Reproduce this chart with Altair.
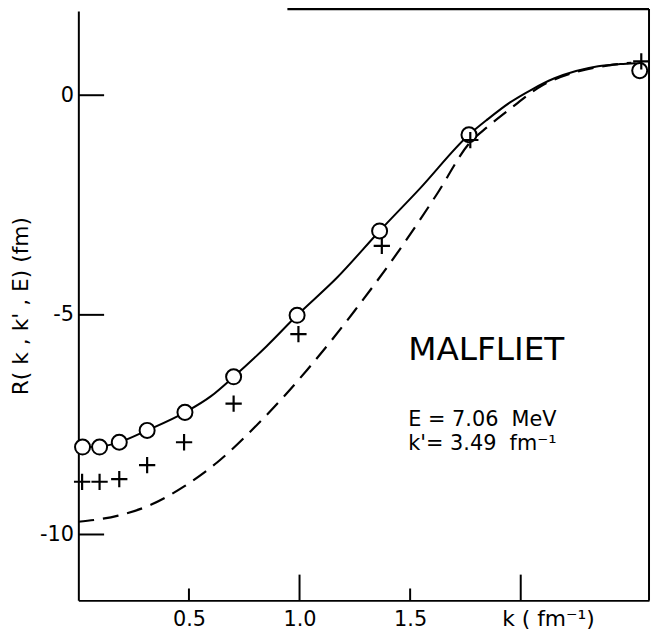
import altair as alt
import pandas as pd

# ---- data ----
circle_k = [0.019, 0.096, 0.185, 0.311, 0.482, 0.702, 0.989, 1.362, 1.766, 2.538]
circle_R = [-8.01, -8.01, -7.90, -7.63, -7.22, -6.41, -5.01, -3.09, -0.90, 0.56]

cross_k = [0.017, 0.096, 0.185, 0.311, 0.478, 0.702, 0.995, 1.372, 1.772, 2.545]
cross_R = [-8.80, -8.80, -8.74, -8.42, -7.90, -7.02, -5.44, -3.43, -1.02, 0.77]

solid_k = [0.019, 0.096, 0.185, 0.311, 0.482, 0.60, 0.702, 0.85, 0.989, 1.17,
           1.362, 1.545, 1.766, 1.85, 1.95, 2.05, 2.15, 2.25, 2.35, 2.45, 2.52]
solid_R = [-8.01, -8.00, -7.90, -7.63, -7.22, -6.85, -6.41, -5.72, -5.01, -4.15,
           -3.09, -2.12, -0.90, -0.55, -0.17, 0.13, 0.38, 0.55, 0.66, 0.71, 0.73]

dashed_k = [0.0, 0.18, 0.33, 0.48, 0.63, 0.797, 1.035, 1.25, 1.47, 1.62,
            1.77, 1.85, 1.95, 2.10, 2.25, 2.40, 2.50]
dashed_R = [-9.71, -9.57, -9.32, -8.90, -8.35, -7.56, -6.25, -4.90, -3.39, -2.26,
            -1.08, -0.72, -0.32, 0.23, 0.53, 0.68, 0.74]

x_major_ticks = [1.0, 2.0]
x_minor_ticks = [0.5, 1.5]
x_tick_labels = [0.5, 1.0, 1.5]
y_ticks = [0, -5, -10]

NB = "\u00a0"
annot_title = ["MALFLIET"]
annot_E = ["E = 7.06" + NB + NB + "MeV"]
annot_k = ["k'= 3.49" + NB + NB + "fm\u207b\u00b9"]
x_title = "k" + NB + "(" + NB + "fm\u207b\u00b9)"
y_title = "R(" + NB + "k" + NB + "," + NB + "k'" + NB + "," + NB + "E)" + NB + "(fm)"

# ---- chart ----
W, H = 576, 595
FONT = "DejaVu Sans"
xs = alt.Scale(domain=[0, 2.58], nice=False, zero=False)
ys = alt.Scale(domain=[-11.5, 1.92], nice=False, zero=False)

xaxis = alt.Axis(values=x_tick_labels, format=".1f", ticks=False, tickSize=0, grid=False,
                 labelFontSize=21, labelPadding=8, labelFont=FONT, labelColor="black",
                 domainColor="black", domainWidth=2,
                 title=x_title, titleFont=FONT, titleFontSize=22,
                 titleFontWeight="normal", titleColor="black",
                 titleX=474, titleY=8, titleAlign="center", titleBaseline="top")
yaxis = alt.Axis(values=y_ticks, labelExpr="toString(datum.value)", ticks=False, tickSize=0,
                 grid=False, labelFontSize=21, labelPadding=5, labelFont=FONT,
                 labelColor="black", domainColor="black", domainWidth=2,
                 title=y_title, titleFont=FONT, titleFontSize=22,
                 titleFontWeight="normal", titleColor="black",
                 titleX=-58, titleY=H / 2, titleAngle=270, titleAlign="center",
                 titleBaseline="middle")

df_c = pd.DataFrame({"k": circle_k, "R": circle_R})
df_x = pd.DataFrame({"k": cross_k, "R": cross_R})
df_s = pd.DataFrame({"k": solid_k, "R": solid_R})
df_d = pd.DataFrame({"k": dashed_k, "R": dashed_R})

solid = alt.Chart(df_s).mark_line(color="black", strokeWidth=2, interpolate="monotone").encode(
    x=alt.X("k:Q", scale=xs, axis=xaxis),
    y=alt.Y("R:Q", scale=ys, axis=yaxis),
)
dashed = alt.Chart(df_d).mark_line(color="black", strokeWidth=2.2, strokeDash=[16, 9],
                                   interpolate="monotone").encode(
    x=alt.X("k:Q", scale=xs), y=alt.Y("R:Q", scale=ys)
)
circles = alt.Chart(df_c).mark_point(shape="circle", filled=True, fill="white", stroke="black",
                                     strokeWidth=2, size=230, opacity=1).encode(
    x=alt.X("k:Q", scale=xs), y=alt.Y("R:Q", scale=ys)
)
crosses = alt.Chart(df_x).mark_point(shape="M-1,0L1,0M0,-1L0,1", filled=False, stroke="black",
                                     strokeWidth=2.2, size=270, opacity=1).encode(
    x=alt.X("k:Q", scale=xs), y=alt.Y("R:Q", scale=ys)
)

xt_major = alt.Chart(pd.DataFrame({"k": x_major_ticks})).mark_rule(color="black", strokeWidth=2).encode(
    x=alt.X("k:Q", scale=xs), y=alt.value(H), y2=alt.value(H - 26)
)
xt_minor = alt.Chart(pd.DataFrame({"k": x_minor_ticks})).mark_rule(color="black", strokeWidth=2).encode(
    x=alt.X("k:Q", scale=xs), y=alt.value(H), y2=alt.value(H - 12)
)
yt = alt.Chart(pd.DataFrame({"R": y_ticks})).mark_rule(color="black", strokeWidth=2).encode(
    y=alt.Y("R:Q", scale=ys), x=alt.value(0), x2=alt.value(26)
)

one = pd.DataFrame({"a": [0]})
right_border = alt.Chart(one).mark_rule(color="black", strokeWidth=2).encode(
    x=alt.value(W), y=alt.value(-2), y2=alt.value(H)
)
top_border = alt.Chart(one).mark_rule(color="black", strokeWidth=2.5).encode(
    x=alt.value(211), x2=alt.value(W), y=alt.value(-2)
)

t1 = alt.Chart(pd.DataFrame({"t": annot_title})).mark_text(
    font=FONT, fontSize=33, align="left", baseline="alphabetic", color="black"
).encode(text="t:N", x=alt.value(333), y=alt.value(352))
t2 = alt.Chart(pd.DataFrame({"t": annot_E})).mark_text(
    font=FONT, fontSize=21, align="left", baseline="alphabetic", color="black"
).encode(text="t:N", x=alt.value(333), y=alt.value(419))
t3 = alt.Chart(pd.DataFrame({"t": annot_k})).mark_text(
    font=FONT, fontSize=21, align="left", baseline="alphabetic", color="black"
).encode(text="t:N", x=alt.value(333), y=alt.value(443))

chart = alt.layer(
    dashed, solid, circles, crosses, xt_major, xt_minor, yt, right_border, top_border, t1, t2, t3
).properties(
    width=W, height=H,
    autosize=alt.AutoSizeParams(type="none"),
    padding={"left": 71, "top": 0, "right": 2, "bottom": 28},
    background="white",
).configure_view(stroke=None)

chart.save("out.html", embed_options={"renderer": "svg", "actions": False})
